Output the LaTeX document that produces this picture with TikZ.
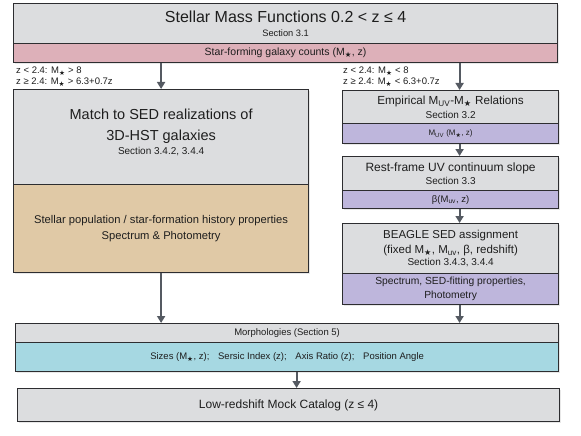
\documentclass[tikz,border=0pt]{standalone}
\usepackage{fontspec}
\setmainfont{Liberation Sans}
\newfontfamily\symf{DejaVu Sans}
\usetikzlibrary{arrows.meta,shadows}
\definecolor{boxgray}{RGB}{220,221,223}
\definecolor{pinkband}{RGB}{221,176,185}
\definecolor{tanband}{RGB}{224,201,166}
\definecolor{purpband}{RGB}{190,182,220}
\definecolor{cyanband}{RGB}{166,216,226}
\definecolor{bordercol}{RGB}{45,45,48}
\definecolor{arrowcol}{RGB}{85,90,98}
\definecolor{txt}{RGB}{30,30,30}
\newcommand{\Ms}{M\textsubscript{\symf ★}}
\newcommand{\MUV}{M\textsubscript{UV}}
\newcommand{\Muv}{M\textsubscript{uv}}
\newcommand{\fs}[2]{\fontsize{#1}{#2}\selectfont}
\newcommand{\gap}{\hspace{6pt} }
\begin{document}
\begin{tikzpicture}[x=1pt,y=-1pt,
  box/.style={draw=bordercol, line width=1.2pt, anchor=north west, inner sep=0pt,
    align=center, text=txt, drop shadow={opacity=0.18, shadow xshift=1.2pt, shadow yshift=-1.2pt}},
  gbox/.style={box, fill=boxgray},
  pbox/.style={box, fill=pinkband},
  tbox/.style={box, fill=tanband},
  vbox/.style={box, fill=purpband},
  cbox/.style={box, fill=cyanband},
  lbl/.style={inner sep=0pt, align=center, text=txt},
  cond/.style={anchor=north west, inner sep=0pt, align=left, text=txt, font=\fs{9.5}{10.5}},
  arr/.style={draw=arrowcol, line width=2pt, -{Triangle[width=8pt,length=7pt]}}
]
\useasboundingbox (0,0) rectangle (581,436);

% top
\node[gbox, minimum width=544pt, minimum height=40pt, font=\fs{16}{13.8}] (top) at (13,3)
  {Stellar Mass Functions 0.2 < z ≤ 4\\\fs{9.3}{11}Section 3.1};
\node[pbox, minimum width=544pt, minimum height=19pt, font=\fs{10.5}{12}] (pink) at (13,43)
  {Star-forming galaxy counts (\Ms, z)};

% conditions
\node[cond] (condL) at (16,67) {z < 2.4: \Ms{} > 8\\z ≥ 2.4: \Ms{} > 6.3+0.7z};
\node[cond] (condR) at (343,67) {z < 2.4: \Ms{} < 8\\z ≥ 2.4: \Ms{} < 6.3+0.7z};

% left column
\node[gbox, minimum width=295pt, minimum height=95pt] (lg) at (13,89) {};
\node[lbl, font=\fs{14.5}{21}] (lgt) at ([yshift=5pt]lg.center)
  {Match to SED realizations of\\3D-HST galaxies\\[-7pt]\fs{10}{11}Section 3.4.2, 3.4.4};
\node[tbox, minimum width=295pt, minimum height=88pt, font=\fs{11.2}{16}] (lt) at (13,184)
  {Stellar population / star-formation history properties\\Spectrum \& Photometry};

% right column
\node[gbox, minimum width=216pt, minimum height=33pt, font=\fs{11.7}{14}] (r1g) at (342,90)
  {Empirical \MUV-\Ms{} Relations\\\fs{10}{11}Section 3.2};
\node[vbox, minimum width=216pt, minimum height=20pt, font=\fs{8}{10}] (r1p) at (342,123)
  {\MUV{} (\Ms, z)};

\node[gbox, minimum width=216pt, minimum height=34pt, font=\fs{12}{13.5}] (r2g) at (342,156)
  {Rest-frame UV continuum slope\\\fs{10}{11}Section 3.3};
\node[vbox, minimum width=216pt, minimum height=18pt, font=\fs{9.5}{11}] (r2p) at (342,190)
  {β(\Muv, z)};

\node[gbox, minimum width=216pt, minimum height=50pt, font=\fs{11.5}{15}] (r3g) at (342,223)
  {BEAGLE SED assignment\\(fixed \Ms, \Muv, β, redshift)\\[-3pt]\fs{10}{11}Section 3.4.3, 3.4.4};
\node[vbox, minimum width=216pt, minimum height=31pt, font=\fs{10.3}{14}] (r3p) at (342,273)
  {Spectrum, SED-fitting properties,\\Photometry};

% morphologies
\node[gbox, minimum width=543pt, minimum height=19pt, font=\fs{9.5}{12}] (mg) at (15,323)
  {Morphologies (Section 5)};
\node[cbox, minimum width=543pt, minimum height=29pt, font=\fs{9.5}{12}] (mc) at (15,342)
  {Sizes (\Ms, z);\gap Sersic Index (z);\gap Axis Ratio (z);\gap Position Angle};

% final
\node[gbox, minimum width=542pt, minimum height=33pt, font=\fs{12}{14}] (fin) at (17,388)
  {Low-redshift Mock Catalog (z ≤ 4)};

% arrows
\coordinate (ra1) at ([xshift=9pt]r1g.north);
\coordinate (ra2) at ([xshift=9pt]r2g.north);
\coordinate (ra3) at ([xshift=9pt]r3g.north);
\coordinate (ra4) at ([xshift=9pt]r3p.south);
\coordinate (fa) at ([xshift=8pt]fin.north);
\draw[arr] (pink.south -| lg.north) -- (lg.north);
\draw[arr] (pink.south -| ra1) -- (ra1);
\draw[arr] (r1p.south -| ra2) -- (ra2);
\draw[arr] (r2p.south -| ra3) -- (ra3);
\draw[arr] (ra4) -- (mg.north -| ra4);
\draw[arr] (lt.south) -- (mg.north -| lt.south);
\draw[arr] (mc.south -| fa) -- (fa);
\end{tikzpicture}
\end{document}
